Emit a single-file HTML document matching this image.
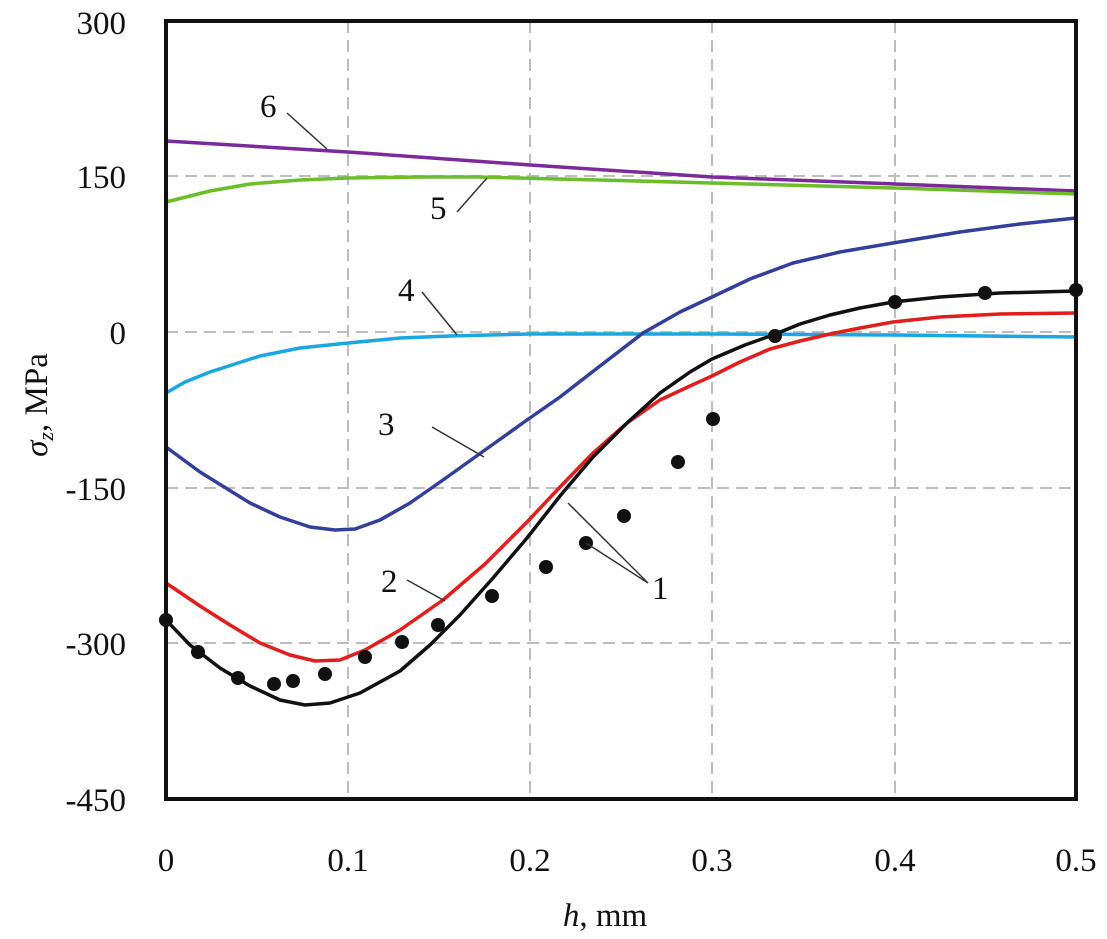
<!DOCTYPE html>
<html><head><meta charset="utf-8"><style>body{margin:0;background:#fff}svg{display:block}text{font-family:"Liberation Serif","DejaVu Serif",serif;fill:#111}</style></head>
<body>
<svg width="1107" height="939" viewBox="0 0 1107 939" xmlns="http://www.w3.org/2000/svg">
<g stroke="#bdbdbd" stroke-width="2" stroke-dasharray="12,7" fill="none">
<line x1="348" y1="21" x2="348" y2="799"/><line x1="530" y1="21" x2="530" y2="799"/><line x1="712" y1="21" x2="712" y2="799"/><line x1="895" y1="21" x2="895" y2="799"/>
<line x1="166" y1="176" x2="1076" y2="176"/><line x1="166" y1="332" x2="1076" y2="332"/><line x1="166" y1="488" x2="1076" y2="488"/><line x1="166" y1="643" x2="1076" y2="643"/>
</g>
<g fill="none" stroke-width="3.5" stroke-linejoin="round" stroke-linecap="round">
<polyline stroke="#7a2a9a" points="166,141 348,152 530,165 712,177 895,184 1076,191"/>
<polyline stroke="#6cbd2a" points="166,202 210,191 250,184 300,180 348,178 420,177 480,177 600,180 712,183 895,188 1076,194"/>
<polyline stroke="#1aa6e0" points="166,393 185,382 210,372 260,356 300,348 348,343 400,338 450,336 530,334 712,334 895,335 1076,337"/>
<polyline stroke="#333f9a" points="166,447 200,472 250,503 280,517 310,527 335,530 355,529 380,520 410,503 443,480 485,450 527,420 560,397 600,366 643,333 680,312 712,297 750,279 793,263 840,252 893,243 960,232 1020,224 1076,218"/>
<polyline stroke="#e31c1c" points="166,583 200,606 230,625 260,643 290,655 315,661 340,660 365,650 400,630 443,600 485,564 527,522 560,487 593,453 627,423 660,400 690,386 712,376 740,362 770,349 800,341 830,334 860,328 893,322 940,317 1000,314 1076,313"/>
<polyline stroke="#111" points="166,620 190,645 220,668 250,686 280,700 305,705 330,703 360,693 400,671 430,645 460,615 493,578 527,538 560,496 593,457 627,423 660,393 690,372 712,359 745,345 773,335 800,324 830,315 860,308 893,302 940,297 1000,293 1076,291"/>
</g>
<g fill="#111">
<circle cx="166" cy="620" r="7"/><circle cx="198" cy="652" r="7"/><circle cx="238" cy="678" r="7"/><circle cx="274" cy="684" r="7"/><circle cx="293" cy="681" r="7"/><circle cx="325" cy="674" r="7"/><circle cx="365" cy="657" r="7"/><circle cx="402" cy="642" r="7"/><circle cx="438" cy="625" r="7"/><circle cx="492" cy="596" r="7"/><circle cx="546" cy="567" r="7"/><circle cx="586" cy="543" r="7"/><circle cx="624" cy="516" r="7"/><circle cx="678" cy="462" r="7"/><circle cx="713" cy="419" r="7"/><circle cx="775" cy="336" r="7"/><circle cx="895" cy="302" r="7"/><circle cx="985" cy="293" r="7"/><circle cx="1076" cy="290" r="7"/>
</g>
<g stroke="#333" stroke-width="1.5">
<line x1="287" y1="113" x2="327" y2="149"/><line x1="457" y1="212" x2="487" y2="178"/><line x1="422" y1="292" x2="457" y2="335"/><line x1="432" y1="427" x2="484" y2="457"/><line x1="407" y1="580" x2="445" y2="601"/><line x1="648" y1="583" x2="568" y2="503"/><line x1="648" y1="583" x2="586" y2="543"/>
</g>
<g font-size="33">
<text x="260" y="117">6</text><text x="430" y="219">5</text><text x="398" y="301">4</text><text x="378" y="435">3</text><text x="381" y="592">2</text><text x="652" y="599">1</text>
</g>
<rect x="166" y="21" width="910" height="778" fill="none" stroke="#111" stroke-width="4"/>
<g font-size="33" text-anchor="end">
<text x="126" y="34">300</text><text x="126" y="188">150</text><text x="126" y="344">0</text><text x="126" y="500">-150</text><text x="126" y="655">-300</text><text x="126" y="811">-450</text>
</g>
<g font-size="33" text-anchor="middle">
<text x="166" y="871">0</text><text x="348" y="871">0.1</text><text x="530" y="871">0.2</text><text x="712" y="871">0.3</text><text x="895" y="871">0.4</text><text x="1076" y="871">0.5</text>
<text x="605" y="926"><tspan font-style="italic">h</tspan>, mm</text>
<text transform="translate(47,405) rotate(-90)"><tspan font-style="italic">σ</tspan><tspan font-style="italic" font-size="22" dy="6">z</tspan><tspan dy="-6">, MPa</tspan></text>
</g>
</svg>
</body></html>
